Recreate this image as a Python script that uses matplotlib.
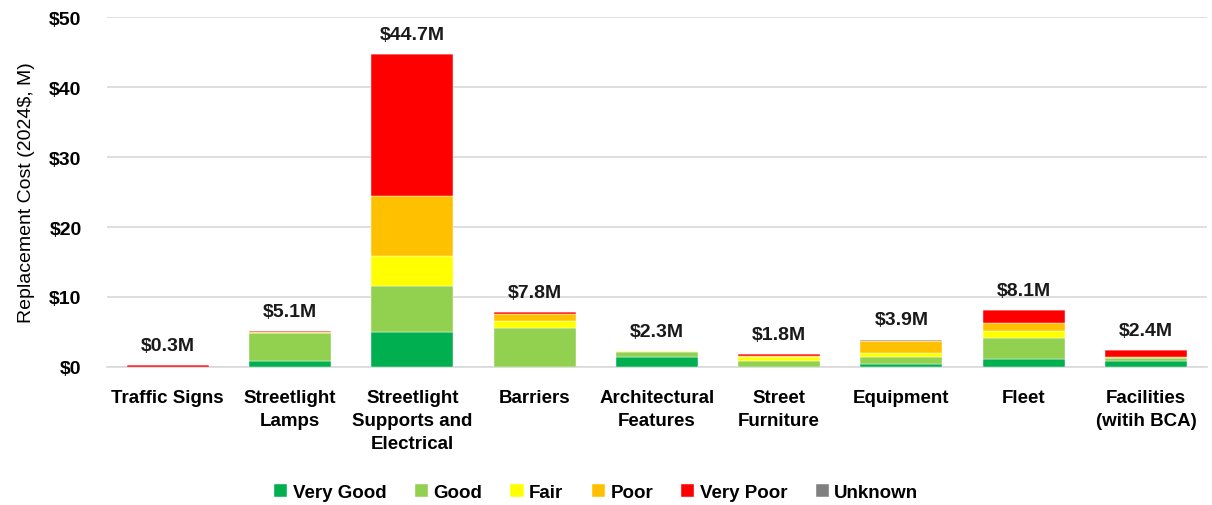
import matplotlib
matplotlib.use("Agg")
import matplotlib.pyplot as plt
import numpy as np

categories = ["Traffic Signs", "Streetlight\nLamps", "Streetlight\nSupports and\nElectrical",
              "Barriers", "Architectural\nFeatures", "Street\nFurniture", "Equipment",
              "Fleet", "Facilities\n(witih BCA)"]
very_good = [0.00, 0.85, 5.0, 0.0, 1.40, 0.00, 0.35, 1.1, 0.90]
good      = [0.00, 3.95, 6.5, 5.6, 0.75, 0.90, 1.05, 3.0, 0.35]
fair      = [0.00, 0.10, 4.3, 0.9, 0.15, 0.45, 0.60, 1.0, 0.05]
poor      = [0.00, 0.10, 8.7, 1.0, 0.00, 0.20, 1.70, 1.2, 0.10]
very_poor = [0.25, 0.10, 20.2, 0.3, 0.00, 0.25, 0.00, 1.8, 1.00]
unknown   = [0.05, 0.00, 0.0, 0.0, 0.00, 0.00, 0.20, 0.0, 0.00]
totals    = [0.3, 5.1, 44.7, 7.8, 2.3, 1.8, 3.9, 8.1, 2.4]

series = [("Very Good", very_good, "#00B050"),
          ("Good", good, "#92D050"),
          ("Fair", fair, "#FFFF00"),
          ("Poor", poor, "#FFC000"),
          ("Very Poor", very_poor, "#FF0000"),
          ("Unknown", unknown, "#808080")]

plt.rcParams["font.family"] = ["Liberation Sans", "DejaVu Sans"]

fig = plt.figure(figsize=(12.12, 5.06), dpi=100)
ax = fig.add_axes([0.088, 0.273, 0.908, 0.691])

x = np.arange(len(categories))
bottom = np.zeros(len(categories))
for name, vals, color in series:
    vals = np.array(vals)
    ax.bar(x, vals, bottom=bottom, width=0.67, color=color, label=name,
           edgecolor="white", linewidth=0.3, zorder=3)
    bottom += vals

for xi, t in zip(x, totals):
    ax.text(xi, t + 1.6, f"${t:.1f}M", ha="center", va="bottom",
            fontsize=14, fontweight="bold", color="#1a1a1a")

ax.set_xlim(-0.5, len(categories) - 0.5)
ax.set_ylim(0, 50)
ax.set_yticks(range(0, 51, 10))
ax.set_yticklabels([f"${v}" for v in range(0, 51, 10)], fontsize=14, fontweight="bold")
ax.set_xticks(x)
ax.set_xticklabels(categories, fontsize=13.5, fontweight="bold", linespacing=1.45)
ax.tick_params(axis="x", length=0, pad=16)
ax.tick_params(axis="y", length=0, pad=18)
ax.yaxis.grid(True, color="#D9D9D9", linewidth=1.2, zorder=0)
for s in ["top", "right", "left"]:
    ax.spines[s].set_visible(False)
ax.spines["bottom"].set_color("#D9D9D9")
ax.spines["bottom"].set_linewidth(1.2)
ax.set_ylabel("Replacement Cost (2024$, M)", fontsize=14, labelpad=10)

fig.legend(loc="lower center", bbox_to_anchor=(0.492, -0.025), ncol=6, frameon=False,
           handlelength=0.7, handleheight=0.7, handletextpad=0.3,
           columnspacing=1.5, prop={"weight": "bold", "size": 13.5})

fig.savefig("out.png", dpi=100)
